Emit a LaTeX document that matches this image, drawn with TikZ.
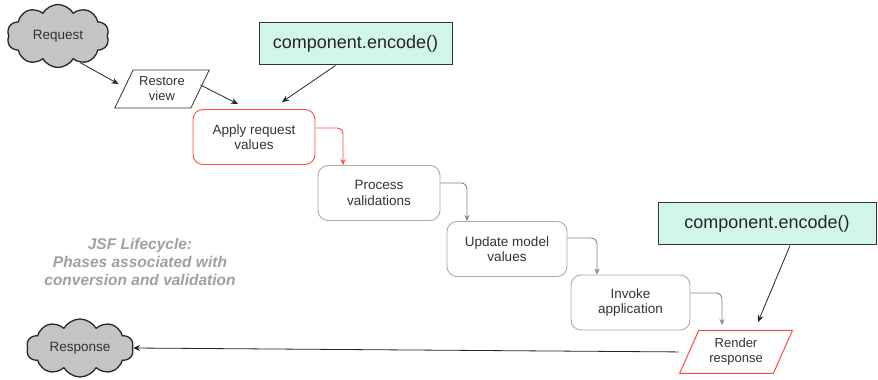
\documentclass[tikz,border=0pt]{standalone}
\usepackage{fontspec}
\setmainfont{Liberation Sans}
\usetikzlibrary{shapes.geometric,shapes.symbols,arrows.meta}
\definecolor{txt}{HTML}{333333}
\definecolor{boxgrey}{HTML}{AAAAAA}
\definecolor{arrgrey}{HTML}{858585}
\definecolor{softred}{HTML}{FF4A4A}
\definecolor{mint}{HTML}{D2F5EC}
\definecolor{cloudfill}{HTML}{C4C4C4}
\definecolor{note}{HTML}{A0A0A0}
\begin{document}
\begin{tikzpicture}[x=1pt,y=1pt,
  phase/.style={draw=boxgrey, line width=0.9pt, rounded corners=10pt, fill=white,
    minimum width=122pt, minimum height=55pt, align=center,
    font=\fontsize{13.5}{15.5}\selectfont, text=txt, inner sep=2pt},
  redphase/.style={phase, draw=softred},
  para/.style={trapezium, trapezium stretches=true, trapezium left angle=60,
    trapezium right angle=120, draw=black!80, line width=0.8pt, fill=white,
    align=center, font=\fontsize{13}{15}\selectfont, text=txt, inner sep=1pt},
  cloudnode/.style={cloud, cloud puffs=10, cloud puff arc=120, cloud ignores aspect,
    draw=black!85, line width=1.3pt, fill=cloudfill,
    font=\fontsize{13.5}{15.5}\selectfont, text=txt},
  codebox/.style={draw=black!80, line width=1pt, fill=mint, minimum height=42pt,
    font=\fontsize{18}{20}\selectfont, text=black!85, inner sep=0pt},
  blackarr/.style={-{Stealth[length=7pt,width=6pt]}, draw=black!85, line width=0.8pt},
  greyarr/.style={-{Stealth[length=6pt,width=5pt]}, draw=arrgrey, line width=0.9pt, rounded corners=6pt},
  redarr/.style={-{Stealth[length=6pt,width=5pt]}, draw=softred, line width=0.9pt, rounded corners=6pt}
]
\useasboundingbox (0,0) rectangle (878,380);
\fill[white] (0,0) rectangle (878,380);

% nodes
\node[cloudnode, minimum width=102pt, minimum height=63pt] (req) at (58,344) {Request};
\node[para, minimum width=95pt, minimum height=38pt] (rv) at (162,291) {Restore\\view};
\node[codebox, minimum width=193pt] (enc1) at (355.5,336) {component.encode()};
\node[redphase] (app) at (254,243) {Apply request\\values};
\node[phase] (proc) at (379,187) {Process\\validations};
\node[phase, minimum width=120pt] (upd) at (507,131) {Update model\\values};
\node[phase, minimum width=119pt] (inv) at (630.5,77.5) {Invoke\\application};
\node[para, draw=softred, line width=1pt, trapezium left angle=64, trapezium right angle=116,
      minimum width=113pt, minimum height=43pt] (rend) at (736,28) {Render\\response};
\node[codebox, minimum width=218pt] (enc2) at (767,156) {component.encode()};
\node[cloudnode, minimum width=107pt, minimum height=58pt] (resp) at (80,32) {Response};
\node[align=center, text=note, font=\fontsize{15.5}{18}\selectfont\bfseries\itshape] (jsf) at (140,118)
  {JSF Lifecycle:\\Phases associated with\\conversion and validation};

% connectors
\draw[blackarr] (req.-50) -- ([xshift=-5pt,yshift=5pt]rv.west);
\draw[blackarr] ([yshift=4pt]rv.east) -- ([xshift=-16pt,yshift=5pt]app.north);
\draw[blackarr] ([xshift=-20pt]enc1.south) -- ([xshift=28pt,yshift=7pt]app.north);
\draw[redarr] ([yshift=9pt]app.east) -| ([xshift=-36pt]proc.north);
\draw[greyarr] ([yshift=10pt]proc.east) -| ([xshift=-40pt]upd.north);
\draw[greyarr] ([yshift=11pt]upd.east) -| ([xshift=-33.5pt]inv.north);
\draw[greyarr] ([yshift=9.5pt]inv.east) -| ([xshift=-14pt,yshift=5pt]rend.north);
\draw[blackarr] ([xshift=23pt]enc2.south) -- ([xshift=22pt,yshift=8pt]rend.north);
\draw[blackarr, shorten <=10pt] (rend.west) -- (resp.east);
\end{tikzpicture}
\end{document}
